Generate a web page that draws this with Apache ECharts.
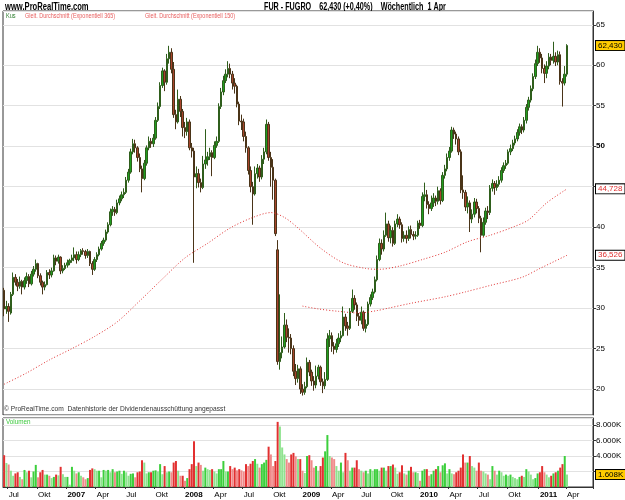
<!DOCTYPE html>
<html>
<head>
<meta charset="utf-8">
<title>FUR - FUGRO Wöchentlich</title>
<script src="https://cdn.jsdelivr.net/npm/echarts@6/dist/echarts.min.js"></script>
<style>
  html, body { margin: 0; padding: 0; background: #fff; }
  #chart { width: 625px; height: 500px; }
</style>
</head>
<body>
<div id="chart"></div>
<script>
// Wochenkerzen FUGRO, Jun 2006 - 1 Apr 2011: [open, close, low, high]
const prices = [
  [32.2,29.9,29.0,32.5],[29.9,30.2,29.3,30.9],[30.2,29.6,28.3,30.6],[29.4,31.7,29.2,32.0],[31.7,33.8,31.5,34.4],
  [33.8,33.2,32.8,34.2],[33.2,32.7,32.1,33.6],[32.7,33.3,32.4,33.9],[33.3,32.6,31.7,33.5],[32.6,33.4,32.3,33.8],
  [33.4,33.9,33.0,34.4],[33.9,33.0,32.6,34.2],[33.0,34.2,32.8,34.6],[34.2,34.8,33.9,35.2],[34.8,35.5,34.5,36.0],
  [35.5,34.0,33.7,35.6],[34.0,33.2,32.8,34.3],[33.2,32.6,31.7,33.4],[32.6,32.9,32.2,33.3],[32.9,34.4,32.8,34.7],
  [34.4,34.1,33.6,34.8],[34.1,34.6,33.8,35.0],[34.6,36.2,34.5,36.6],[36.2,35.8,35.3,36.5],[35.8,36.3,35.5,36.6],
  [36.3,34.6,34.2,36.4],[34.6,34.9,34.3,35.3],[34.9,35.3,34.7,35.6],[35.3,35.6,35.0,36.0],[35.6,35.9,35.3,36.1],
  [35.9,36.2,35.6,36.6],[36.2,36.6,35.8,37.5],[36.6,36.0,35.5,37.0],[36.0,36.6,35.8,37.0],[36.6,37.1,36.3,37.3],
  [37.1,37.0,36.6,37.4],[37.0,36.5,36.1,37.2],[36.5,37.0,36.2,37.3],[37.0,35.5,35.2,37.1],[35.5,34.8,34.1,35.8],
  [34.8,36.0,34.6,36.3],[36.0,36.6,35.7,36.9],[36.6,37.3,36.4,37.6],[37.3,38.0,37.1,38.3],[38.0,38.4,37.7,38.7],
  [38.4,39.4,38.2,39.7],[39.4,40.3,39.2,40.6],[40.3,41.9,40.1,42.3],[41.9,42.2,41.4,42.6],[42.2,41.8,41.4,42.5],
  [41.8,43.0,41.6,43.4],[43.0,43.5,42.7,43.9],[43.5,44.0,43.2,44.4],[44.0,44.3,43.6,44.8],[44.3,45.8,44.1,46.2],
  [45.8,46.8,45.5,47.2],[46.8,49.3,46.6,49.7],[49.3,50.3,49.0,50.9],[50.3,49.8,49.2,50.8],[49.8,48.6,48.1,50.0],
  [48.6,47.2,46.8,49.1],[47.2,46.0,44.3,47.6],[46.0,47.9,45.8,48.3],[47.9,49.8,47.6,50.1],[49.8,50.6,49.5,51.2],
  [50.6,50.3,49.8,51.0],[50.3,51.0,49.9,51.5],[51.0,53.2,50.8,53.6],[53.2,54.9,53.0,55.4],[54.9,57.5,54.6,57.9],
  [57.5,59.3,57.2,59.7],[59.3,57.9,56.8,59.5],[57.9,60.8,57.6,61.4],[60.8,61.6,60.2,62.4],[61.6,59.5,59.0,62.1],
  [59.5,53.9,53.5,60.4],[53.9,53.0,52.1,54.5],[53.0,55.8,52.8,57.0],[55.8,54.3,53.6,56.2],[54.3,52.3,51.2,54.6],
  [52.3,51.8,51.0,53.0],[51.8,53.0,51.3,53.5],[53.0,49.8,49.5,53.3],[49.8,49.4,48.6,50.4],[49.4,46.2,35.6,49.8],
  [46.2,46.6,44.8,47.5],[46.6,45.5,44.9,47.2],[45.5,44.9,44.3,46.0],[44.9,47.8,44.7,48.8],[47.8,48.3,47.2,52.1],
  [48.3,48.7,47.6,49.3],[48.7,49.2,48.3,49.8],[49.2,48.6,46.3,49.5],[48.6,50.1,48.4,50.6],[50.1,50.6,49.8,51.2],
  [50.6,54.9,50.4,55.3],[54.9,56.7,54.6,57.2],[56.7,58.1,56.3,58.7],[58.1,58.9,57.8,59.5],[58.9,59.6,58.5,60.5],
  [59.6,58.9,58.4,60.2],[58.9,57.8,57.0,59.3],[57.8,57.4,56.5,58.4],[57.4,55.2,54.8,57.6],[55.2,53.1,52.6,55.5],
  [53.1,53.0,52.0,53.9],[53.0,51.2,50.6,53.4],[51.2,49.8,49.2,51.8],[49.8,47.0,46.5,50.0],[47.0,45.0,44.3,47.5],
  [45.0,44.1,40.3,45.6],[44.1,46.6,43.9,47.5],[46.6,47.3,46.0,47.8],[47.3,46.2,45.6,47.6],[46.2,48.4,45.9,48.9],
  [48.4,49.3,47.8,49.8],[49.3,52.7,49.0,53.3],[52.7,48.6,48.2,53.0],[48.6,47.4,45.0,49.3],[47.4,45.8,43.4,48.4],
  [45.8,39.2,38.9,46.0],[37.2,23.4,23.0,38.4],[23.4,24.5,22.4,31.7],[24.5,25.2,23.8,26.5],[25.2,27.9,25.0,29.4],
  [27.9,26.4,25.8,28.6],[26.4,26.3,24.5,27.5],[26.3,25.0,24.3,26.8],[25.0,22.2,21.6,25.4],[22.2,21.3,20.5,23.1],
  [21.3,22.5,20.8,23.0],[22.5,20.0,19.4,22.8],[20.0,19.6,19.2,20.6],[19.6,20.3,19.3,20.9],[20.3,23.3,20.1,23.9],
  [23.3,22.1,21.6,23.6],[22.1,21.0,20.4,22.4],[21.0,20.5,19.8,21.6],[20.5,21.6,20.1,22.9],[21.6,22.7,21.2,23.0],
  [22.7,20.9,20.4,22.9],[20.9,20.4,19.5,21.3],[20.4,21.2,20.0,22.1],[21.2,26.2,21.0,26.9],[26.2,26.6,25.2,27.3],
  [26.6,25.3,24.6,27.0],[25.3,24.9,24.3,25.8],[24.9,25.6,24.5,26.2],[25.6,26.3,25.2,26.9],[26.3,26.6,25.8,27.2],
  [26.6,28.9,26.5,30.2],[28.9,27.8,27.2,29.3],[27.8,27.5,26.6,28.3],[27.5,29.6,27.3,30.0],[29.6,31.2,29.4,32.3],
  [31.2,30.4,29.8,31.6],[30.4,29.0,28.4,30.7],[29.0,28.5,27.8,29.4],[28.5,29.5,28.0,30.2],[29.5,27.5,27.2,29.7],
  [27.5,28.0,27.0,28.6],[28.0,30.5,27.8,30.8],[30.5,31.3,30.2,31.7],[31.3,32.0,31.0,32.4],[32.0,33.5,31.8,33.9],
  [33.5,36.0,33.3,36.5],[36.0,38.0,35.8,38.6],[38.0,37.3,36.6,38.5],[37.3,39.0,37.0,39.6],[39.0,40.4,38.8,41.8],
  [40.4,38.7,38.2,40.8],[38.7,39.6,38.0,40.2],[39.6,38.0,37.6,40.0],[38.0,40.4,37.8,40.8],[40.4,41.0,40.0,41.6],
  [41.0,40.3,39.8,41.3],[40.3,38.6,38.1,40.6],[38.6,39.0,38.2,39.5],[39.0,38.6,38.0,39.6],[38.6,39.7,38.3,40.1],
  [39.7,39.1,38.6,40.2],[39.1,38.9,38.4,39.5],[38.9,39.0,38.5,39.5],[39.0,40.5,38.8,40.8],[40.5,40.2,39.8,40.9],
  [40.2,43.8,40.0,44.3],[43.8,44.0,43.2,45.5],[44.0,42.8,42.3,44.6],[42.8,42.3,41.6,43.2],[42.3,43.0,42.0,43.9],
  [43.0,43.6,42.5,44.2],[43.6,43.2,42.6,43.9],[43.2,44.5,42.8,45.0],[44.5,43.3,42.8,44.8],[43.3,46.4,43.1,46.8],
  [46.4,47.2,46.0,47.7],[47.2,48.6,46.9,49.1],[48.6,49.4,48.2,49.9],[49.4,52.0,49.2,52.4],[52.0,51.5,50.9,52.3],
  [51.5,50.9,50.2,51.8],[50.9,49.3,48.9,51.2],[49.3,44.6,44.2,49.6],[44.6,44.3,43.5,46.4],[44.3,42.5,42.0,44.6],
  [42.5,43.0,41.7,43.8],[43.0,41.0,39.4,43.3],[41.0,41.6,40.5,42.2],[41.6,43.1,41.2,43.6],[43.1,42.3,41.7,43.5],
  [42.3,41.1,40.5,42.6],[41.1,39.0,36.9,41.4],[39.0,40.6,38.8,41.2],[40.6,42.0,40.3,42.4],[42.0,41.8,41.0,42.6],
  [41.8,44.8,41.5,45.2],[44.8,45.4,44.4,45.9],[45.4,44.9,44.0,45.7],[44.9,45.3,44.5,45.8],[45.3,45.8,45.0,46.3],
  [45.8,47.0,45.5,47.4],[47.0,47.6,46.7,48.0],[47.6,47.9,47.2,48.3],[47.9,49.3,47.7,49.6],[49.3,49.7,48.9,50.2],
  [49.7,50.4,49.4,50.8],[50.4,50.9,50.1,51.3],[50.9,51.7,50.6,52.1],[51.7,52.4,51.3,52.8],[52.4,52.0,51.5,52.7],
  [52.0,53.2,51.7,53.6],[53.2,54.8,52.8,55.2],[54.8,55.7,54.4,56.1],[55.7,57.1,55.4,57.5],[57.1,58.6,56.8,59.0],
  [58.6,60.2,58.3,60.7],[60.2,61.6,59.9,62.4],[61.6,60.9,60.3,62.1],[60.9,59.6,59.0,61.4],[59.6,59.0,57.8,60.1],
  [59.0,59.9,58.4,60.5],[59.9,61.0,59.5,61.5],[61.0,60.6,60.0,61.4],[60.6,61.1,60.2,62.9],[61.1,60.4,59.9,61.6],
  [60.4,61.3,60.0,61.8],[61.3,58.0,57.6,61.7],[58.0,57.8,54.9,58.4],[57.8,58.9,57.5,59.9],[58.9,62.43,58.6,62.6]
];

// Volumen in Tausend Stück
const volumes = [
  4100,3100,2900,2100,1450,1750,1900,1300,1000,2200, 1900,2100,1250,2000,2850,1250,1900,2200,1600,1600,
  1450,1150,1300,1600,1500,2600,1650,1300,1300,300, 2600,2100,1750,1900,1450,1250,1000,1150,2200,2400,
  2300,2100,2100,1250,2200,2100,2200,1900,2300,1900, 2000,2100,1700,2100,1900,1450,1700,1750,1250,1900,
  2000,3450,3150,1750,1900,1900,2100,2150,2000,2950, 1650,2700,1900,2000,1900,3150,3350,2100,1450,1450,
  800,1150,2300,2950,5900,2700,3150,2850,2100,2500, 2300,2200,2300,2000,1750,2300,2300,3350,2000,2000,
  2700,2300,2500,2150,2300,2150,2000,2950,2700,3000, 3350,3600,3000,2500,2950,3150,3500,5200,4200,2700,
  3350,8400,7800,5100,4200,3600,3150,4200,4400,3950, 3600,3600,2100,1800,4000,4100,3450,2500,2700,2100,
  2700,3800,4600,6700,4000,3800,3600,2700,2100,3150, 1900,4400,3450,2100,2500,2500,3450,2300,2100,1900,
  2100,1750,2300,2100,2300,2300,2100,2500,2500,2100, 2700,2700,2900,2500,1700,1900,2800,1750,1600,2100,
  2600,1900,1900,1800,800,2100,2300,2300,1450,1650, 2100,2300,2700,1900,2800,3050,1750,2300,1750,1650,
  1900,2100,2500,4200,3150,3150,4000,2700,2500,2100, 3150,2100,2000,1750,1600,1000,2700,2100,1600,2100,
  1900,1450,1600,1450,1600,1300,1150,1000,1300,1450, 1300,2300,2000,1600,1000,1150,1750,1900,2700,1900,
  1600,1250,1450,1750,1900,2100,2500,2950,4000,1608
];

// gleitende Durchschnitte: [Wochenindex, Wert]
const ema150 = [
  [0,20.6],[10,22.0],[20,23.6],[30,25.0],[40,26.5],[50,28.3],[60,30.9],[70,33.6],[80,36.2],[90,38.0],
  [100,39.9],[110,41.2],[118,41.8],[124,41.2],[130,39.9],[140,37.4],[150,35.6],[160,34.9],[166,34.8],
  [175,35.2],[185,36.0],[195,36.9],[205,38.2],[215,39.0],[225,40.0],[232,40.9],[240,43.0],[249,44.728]
];
const ema365 = [
  [132,30.25],[139,29.9],[148,29.6],[157,29.4],[165,29.7],[170,30.0],[180,30.6],[195,31.4],
  [204,32.0],[215,32.8],[229,33.8],[237,34.9],[249,36.526]
];

const quarterNames = ['', 'Apr', 'Jul', 'Okt'];
const lastWeek = Date.UTC(2011, 3, 1);
const totalWeeks = 261; // 250 Kerzen + Leerraum rechts

const weeks = [];
for (let k = 0; k < totalWeeks; k++) {
  const d = new Date(lastWeek + (k - (prices.length - 1)) * 7 * 86400000);
  weeks.push(d.toISOString().slice(0, 10));
}

function quarterStart(value) {
  const d = new Date(value + 'T00:00:00Z');
  return d.getUTCMonth() % 3 === 0 && d.getUTCDate() <= 7;
}

function deNum(v, digits) {
  return v.toFixed(digits).replace('.', ',');
}

// Kasten mit dem letzten Wert rechts an der Achse
function lastValueTag(value, text, color, bg) {
  return {
    silent: true, symbol: 'none',
    lineStyle: { color: 'rgba(0,0,0,0)', width: 0 },
    data: [{ yAxis: value }],
    label: {
      show: true, position: 'end', distance: 3, formatter: text,
      fontSize: 8, color: color, backgroundColor: bg,
      borderColor: '#000', borderWidth: 1, padding: [1, 2, 0, 2]
    }
  };
}

// schmale Beschriftung (ProRealTime nutzt eine enge Schrift)
function label(x, y, text, font, fill, sx) {
  return { type: 'text', x: x, y: y, scaleX: sx, style: { text: text, font: font, fill: fill } };
}

const FONT = 'Liberation Sans';
const chart = echarts.init(document.getElementById('chart'));

const option = {
  animation: false,
  backgroundColor: '#fff',
  textStyle: { fontFamily: FONT },
  graphic: [
    label(5, 2, 'www.ProRealTime.com', 'bold 10px ' + FONT, '#000', 0.76),
    label(264, 2, 'FUR - FUGRO    62,430 (+0,40%)    Wöchentlich  1 Apr', 'bold 10px ' + FONT, '#000', 0.72),
    label(6, 13, 'Kus', '7px ' + FONT, '#2e7d2e', 0.8),
    label(25, 13, 'Gleit. Durchschnitt (Exponentiell 365)', '7px ' + FONT, '#e86060', 0.78),
    label(145, 13, 'Gleit. Durchschnitt (Exponentiell 150)', '7px ' + FONT, '#e86060', 0.78),
    label(4, 406, '© ProRealTime.com  Datenhistorie der Dividendenausschüttung angepasst', '7px ' + FONT, '#333', 0.95),
    label(6, 419, 'Volumen', '7px ' + FONT, '#3cc83c', 0.9)
  ],
  grid: [
    { left: 3, right: 32, top: 11, bottom: 85, show: true, borderColor: '#333', borderWidth: 1, backgroundColor: 'transparent' },
    { left: 3, right: 32, top: 418, bottom: 13, show: true, borderColor: '#333', borderWidth: 1, backgroundColor: 'transparent' }
  ],
  xAxis: [
    {
      type: 'category', gridIndex: 0, data: weeks, boundaryGap: true,
      axisLine: { show: false }, axisTick: { show: false }, axisLabel: { show: false }, splitLine: { show: false }
    },
    {
      type: 'category', gridIndex: 1, data: weeks, boundaryGap: true,
      axisLine: { show: true, lineStyle: { color: '#333' } },
      axisTick: { show: true, length: 2, interval: (i, v) => quarterStart(v), lineStyle: { color: '#333' } },
      axisLabel: {
        interval: (i, v) => quarterStart(v),
        align: 'left', margin: 4, fontSize: 8, color: '#000',
        formatter: v => {
          const d = new Date(v + 'T00:00:00Z');
          const m = d.getUTCMonth();
          return m === 0 ? '{y|' + d.getUTCFullYear() + '}' : quarterNames[m / 3];
        },
        rich: { y: { fontSize: 8, fontWeight: 'bold', color: '#000' } }
      },
      splitLine: { show: false }
    }
  ],
  yAxis: [
    {
      type: 'value', gridIndex: 0, position: 'right', min: 16.8, max: 66.7, splitNumber: 10, scale: true,
      axisLine: { show: true, lineStyle: { color: '#333' } },
      axisTick: { show: true, length: 3, lineStyle: { color: '#333' } },
      axisLabel: {
        showMinLabel: false, showMaxLabel: false, fontSize: 8, color: '#000', margin: 3,
        formatter: v => v === 50 ? '{b|50}' : String(v),
        rich: { b: { fontSize: 8, fontWeight: 'bold', color: '#000' } }
      },
      splitLine: { show: true, lineStyle: { color: '#e2e2e2', width: 1 } }
    },
    {
      type: 'value', gridIndex: 1, position: 'right', min: 0, max: 8900, interval: 2000,
      axisLine: { show: true, lineStyle: { color: '#333' } },
      axisTick: { show: true, length: 3, lineStyle: { color: '#333' } },
      axisLabel: {
        showMinLabel: false, showMaxLabel: false, fontSize: 8, color: '#000', margin: 3,
        formatter: v => (v / 1000).toFixed(3) + 'K'
      },
      splitLine: { show: true, lineStyle: { color: '#e2e2e2', width: 1 } }
    }
  ],
  series: [
    {
      name: 'Kus', type: 'candlestick', xAxisIndex: 0, yAxisIndex: 0,
      data: prices, barWidth: 2,
      itemStyle: {
        color: '#1f9e1f', color0: '#a8442c',
        borderColor: '#2f5e1c', borderColor0: '#4a3418', borderWidth: 1
      },
      markLine: lastValueTag(62.43, deNum(62.43, 3), '#000', '#ffcc00')
    },
    {
      name: 'Gleit. Durchschnitt (Exponentiell 365)', type: 'line', xAxisIndex: 0, yAxisIndex: 0,
      data: ema365, showSymbol: false, smooth: 0.3,
      lineStyle: { color: '#e03030', width: 1, type: [1, 2] },
      markLine: lastValueTag(36.526, deNum(36.526, 3), '#e03030', '#fff')
    },
    {
      name: 'Gleit. Durchschnitt (Exponentiell 150)', type: 'line', xAxisIndex: 0, yAxisIndex: 0,
      data: ema150, showSymbol: false, smooth: 0.3,
      lineStyle: { color: '#e03030', width: 1, type: [1, 2] },
      markLine: lastValueTag(44.728, deNum(44.728, 3), '#e03030', '#fff')
    },
    {
      name: 'Volumen', type: 'bar', xAxisIndex: 1, yAxisIndex: 1,
      data: volumes, barWidth: 2,
      itemStyle: {
        color: p => {
          const i = p.dataIndex;
          const up = i === 0 ? prices[0][1] >= prices[0][0] : prices[i][1] >= prices[i - 1][1];
          const strong = i === 0 || volumes[i] >= volumes[i - 1];
          if (up) return strong ? '#3ccf3c' : '#8fe38f';
          return strong ? '#e23030' : '#f08a8a';
        }
      },
      markLine: lastValueTag(1608, '1.608K', '#000', '#ffcc00')
    }
  ]
};

chart.setOption(option);
</script>
</body>
</html>
